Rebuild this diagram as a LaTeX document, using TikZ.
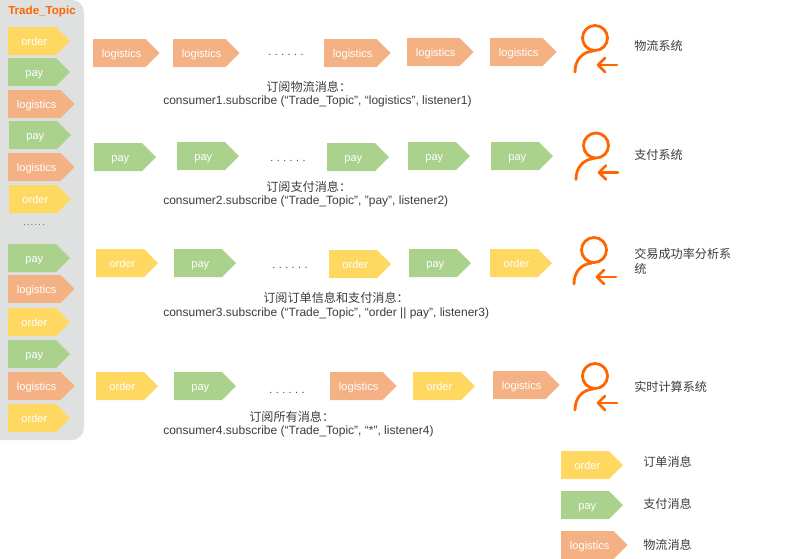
\documentclass[tikz,border=0pt]{standalone}
\usepackage{fontspec}
\setmainfont{Liberation Sans}
\newfontfamily\cjk{Noto Sans CJK SC}
\usetikzlibrary{shapes.symbols}
\definecolor{panelgray}{RGB}{223,225,225}
\definecolor{ordercolor}{RGB}{255,216,98}
\definecolor{paycolor}{RGB}{170,210,140}
\definecolor{logisticscolor}{RGB}{244,178,132}
\definecolor{iconorange}{RGB}{255,102,0}
\definecolor{textgray}{RGB}{60,60,60}
\newcommand{\dotrow}[1]{.\kern#1.\kern#1.\kern#1.\kern#1.\kern#1.}
\tikzset{
  tag/.style={shape=signal, signal to=east, signal pointer angle=90, anchor=west,
    minimum height=21pt, inner sep=0pt, outer sep=0pt, text=white, text height=7pt, text depth=1pt,
    execute at begin node={\kern3.5pt}, font=\fontsize{8.3}{9}\selectfont},
  ordertag/.style={tag, fill=ordercolor, minimum width=46.5pt},
  paytag/.style={tag, fill=paycolor, minimum width=46.5pt},
  logisticstag/.style={tag, fill=logisticscolor, minimum width=50pt},
  dots/.style={inner sep=0pt, font=\fontsize{8}{9}\selectfont, text=textgray},
  codetext/.style={anchor=west, inner sep=0pt, text=textgray, font=\fontsize{9}{10}\selectfont},
  cntext/.style={anchor=west, inner sep=0pt, text=textgray, font=\cjk\fontsize{9.1}{10}\selectfont},
  iconline/.style={iconorange, line width=2.1pt, line cap=round, line join=round}
}
\begin{document}
\begin{tikzpicture}[x=0.75pt, y=-0.75pt]
    \useasboundingbox (0,0) rectangle (789,558);

    % Topic panel
    \fill[panelgray] (0,0) -- (72,0) arc[start angle=90, end angle=0, x radius=12, y radius=-12] -- (84,428)
        arc[start angle=0, end angle=-90, x radius=12, y radius=-12] -- (0,440) -- cycle;
    \node[anchor=west, inner sep=0pt, text=iconorange, font=\bfseries\fontsize{8.7}{10}\selectfont] (topic) at (8,11) {Trade\_Topic};

    % Topic messages
    \node[ordertag] (t1) at (8,41) {order};
    \node[paytag] (t2) at (8,72) {pay};
    \node[logisticstag] (t3) at (8,104) {logistics};
    \node[paytag] (t4) at (9,135) {pay};
    \node[logisticstag] (t5) at (8,167) {logistics};
    \node[ordertag] (t6) at (9,199) {order};
    \node[dots, font=\fontsize{6}{7}\selectfont] (tdots) at (34,225) {\dotrow{1.2pt}};
    \node[paytag] (t7) at (8,258) {pay};
    \node[logisticstag] (t8) at (8,289) {logistics};
    \node[ordertag] (t9) at (8,322) {order};
    \node[paytag] (t10) at (8,354) {pay};
    \node[logisticstag] (t11) at (8,386) {logistics};
    \node[ordertag] (t12) at (8,418) {order};

    % Row 1
    \node[logisticstag] (a1) at (93,53) {logistics};
    \node[logisticstag] (a2) at (173,53) {logistics};
    \node[dots] (adots) at (286,55) {\dotrow{2.6pt}};
    \node[logisticstag] (a3) at (324,53) {logistics};
    \node[logisticstag] (a4) at (407,52) {logistics};
    \node[logisticstag] (a5) at (490,52) {logistics};
    \node[cntext] (acn) at (266,87) {订阅物流消息：};
    \node[codetext] (acode) at (163,101) {consumer1.subscribe (“Trade\_Topic”, “logistics”, listener1)};

    % Row 2
    \node[paytag] (b1) at (94,157) {pay};
    \node[paytag] (b2) at (177,156) {pay};
    \node[dots] (bdots) at (288,161) {\dotrow{2.6pt}};
    \node[paytag] (b3) at (327,157) {pay};
    \node[paytag] (b4) at (408,156) {pay};
    \node[paytag] (b5) at (491,156) {pay};
    \node[cntext] (bcn) at (266,187) {订阅支付消息：};
    \node[codetext] (bcode) at (163,201) {consumer2.subscribe (“Trade\_Topic”, ”pay”, listener2)};

    % Row 3
    \node[ordertag] (c1) at (96,263) {order};
    \node[paytag] (c2) at (174,263) {pay};
    \node[dots] (cdots) at (290,268) {\dotrow{2.6pt}};
    \node[ordertag] (c3) at (329,264) {order};
    \node[paytag] (c4) at (409,263) {pay};
    \node[ordertag] (c5) at (490,263) {order};
    \node[cntext] (ccn) at (263,298) {订阅订单信息和支付消息：};
    \node[codetext] (ccode) at (163,313) {consumer3.subscribe (“Trade\_Topic”, “order || pay”, listener3)};

    % Row 4
    \node[ordertag] (d1) at (96,386) {order};
    \node[paytag] (d2) at (174,386) {pay};
    \node[dots] (ddots) at (287,393) {\dotrow{2.6pt}};
    \node[logisticstag] (d3) at (330,386) {logistics};
    \node[ordertag] (d4) at (413,386) {order};
    \node[logisticstag] (d5) at (493,385) {logistics};
    \node[cntext] (dcn) at (249,417) {订阅所有消息：};
    \node[codetext] (dcode) at (163,431) {consumer4.subscribe (“Trade\_Topic”, “*”, listener4)};

    % Consumer icons
    \foreach \dx/\dy in {0/0, 1/107.5, -1/212, 0/338} {
        \begin{scope}[shift={(\dx,\dy)}]
            \draw[iconline] (595,38) circle (12.5);
            \draw[iconline] (575,72) .. controls (575,60) and (582,52) .. (593,51);
            \draw[iconline] (617,65) -- (598,65);
            \draw[iconline] (605,58) -- (598,65) -- (605,72);
        \end{scope}
    }

    % Systems
    \node[cntext] (s1) at (634,46) {物流系统};
    \node[cntext] (s2) at (634,155) {支付系统};
    \node[cntext] (s3a) at (634,254) {交易成功率分析系};
    \node[cntext] (s3b) at (634,269) {统};
    \node[cntext] (s4) at (634,387) {实时计算系统};

    % Legend
    \node[ordertag] (l1) at (561,465) {order};
    \node[paytag] (l2) at (561,505) {pay};
    \node[logisticstag] (l3) at (561,545) {logistics};
    \node[cntext] (l1t) at (643,462) {订单消息};
    \node[cntext] (l2t) at (643,504) {支付消息};
    \node[cntext] (l3t) at (643,545) {物流消息};
\end{tikzpicture}
\end{document}
